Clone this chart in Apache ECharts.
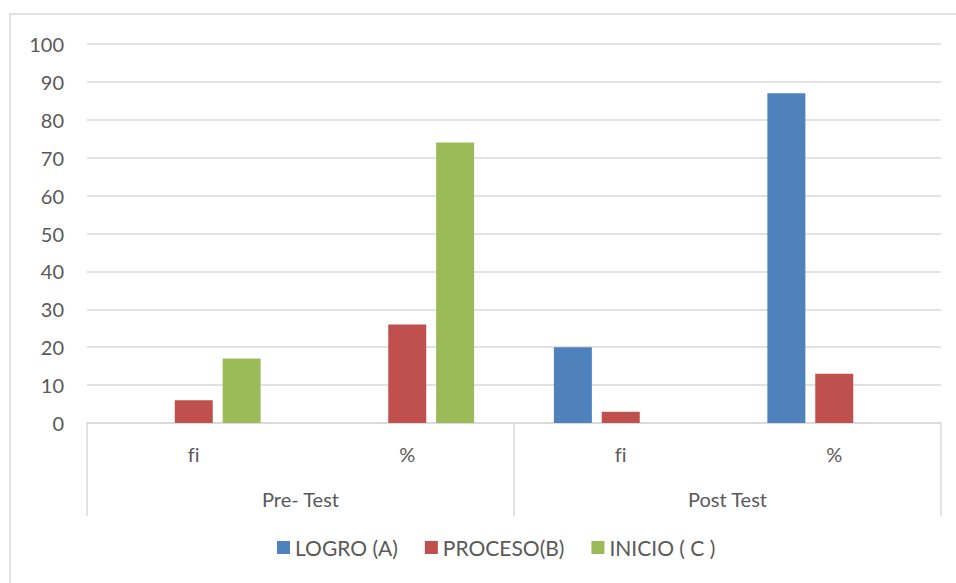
<!DOCTYPE html>
<html>
<head>
<meta charset="utf-8">
<script src="https://cdn.jsdelivr.net/npm/echarts@6/dist/echarts.min.js"></script>
<style>html,body{margin:0;padding:0;background:#fff}#c{width:956px;height:583px}#c text{font-variant-ligatures:none;font-feature-settings:"liga" 0}</style>
</head>
<body>
<div id="c"></div>
<script>
const categories = ['fi', '%', 'fi', '%'];
const groups = ['Pre- Test', 'Post Test'];
const seriesNames = ['LOGRO (A)', 'PROCESO(B)', 'INICIO ( C )'];
const logro = [0, 0, 20, 87];
const proceso = [6, 26, 3, 13];
const inicio = [17, 74, 0, 0];
const colors = ['#4F81BD', '#C0504D', '#9BBB59'];
const font = 'Lato, Carlito, "Noto Sans", sans-serif';
const txt = '#595959';
const grey = '#D9D9D9';
const fs = 20;

const chart = echarts.init(document.getElementById('c'), null, {renderer: 'svg'});
const values = [logro, proceso, inicio];
chart.setOption({
  animation: false,
  backgroundColor: '#fff',
  graphic: [{
    type: 'rect', shape: {x: 10, y: 14, width: 980, height: 620},
    style: {fill: 'none', stroke: grey, lineWidth: 1.5}, silent: true, z: -1
  }],
  grid: {left: 87, right: 15, top: 44, bottom: 160},
  legend: {
    bottom: 20, left: 272,
    itemWidth: 13, itemHeight: 13, itemGap: 27,
    icon: 'rect',
    textStyle: {color: txt, fontSize: 21, fontFamily: font},
    data: seriesNames
  },
  xAxis: [{
    type: 'category', data: categories,
    axisLine: {lineStyle: {color: grey, width: 1.5}},
    axisTick: {show: false},
    axisLabel: {color: txt, fontSize: fs, fontFamily: font, margin: 21}
  }, {
    type: 'category', data: groups, position: 'bottom',
    axisLine: {show: false},
    axisTick: {show: true, length: 93, lineStyle: {color: grey, width: 1.5}},
    axisLabel: {color: txt, fontSize: fs, fontFamily: font, margin: 66}
  }],
  yAxis: {
    type: 'value', min: 0, max: 100, interval: 10,
    axisLine: {show: false}, axisTick: {show: false},
    splitLine: {lineStyle: {color: grey, width: 1.5}},
    axisLabel: {color: txt, fontSize: fs, fontFamily: font, margin: 23}
  },
  series: seriesNames.map((n, i) => ({
    name: n, type: 'bar', data: values[i], xAxisIndex: 0,
    barWidth: 38, barGap: '26%',
    itemStyle: {color: colors[i]}
  }))
});
</script>
</body>
</html>
